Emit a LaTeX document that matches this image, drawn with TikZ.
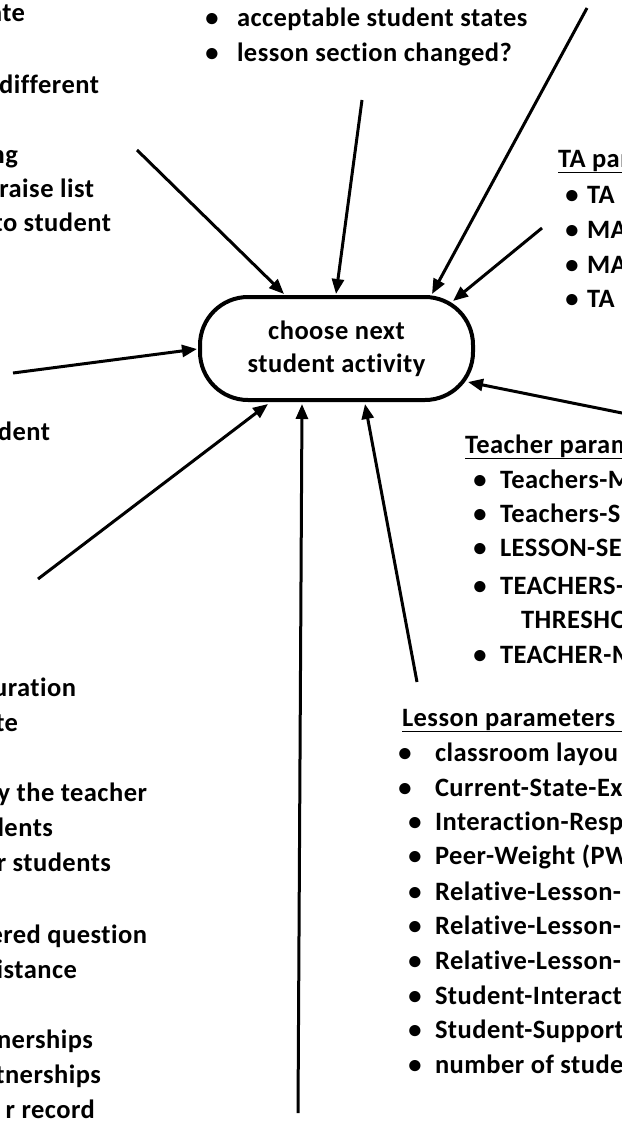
\documentclass[tikz,border=0pt]{standalone}
\usepackage{fontspec}
\setmainfont{Carlito}[Ligatures={NoCommon}, LetterSpace=1.8]
\usetikzlibrary{arrows.meta,calc}
\tikzset{
  txt/.style={font=\fontsize{26.5}{33}\selectfont\bfseries, inner sep=0pt, outer sep=0pt},
  lft/.style={txt, anchor=base east},
  itm/.style={txt, anchor=base west},
  bul/.style={txt, anchor=base},
  hub/.style={draw, line width=4pt, rounded corners=48pt, minimum width=273pt, minimum height=103pt, align=center, inner sep=0pt, font=\fontsize{26.5}{33}\selectfont\bfseries},
  arr/.style={line width=3pt, -{Triangle[length=15pt,width=12pt]}},
}
\begin{document}
\begin{tikzpicture}[x=1pt,y=-1pt]
\fill[white] (0,0) rectangle (621,1124);
\useasboundingbox (0,0) rectangle (621,1124);

% central node
\node[hub] (cn) at (336.5,348.5) {choose next\\student activity};

% left column (cut off)
\node[lft] (l1) at (25,22) {ate};
\node[lft] (l2) at (99,93) {different};
\node[lft] (l3) at (18,163) {ng};
\node[lft] (l4) at (94,197) {raise list};
\node[lft] (l5) at (111,231) {to student};
\node[lft] (l6) at (50,440) {dent};
\node[lft] (l7) at (76,696) {uration};
\node[lft] (l8) at (18,731) {te};
\node[lft] (l9) at (147,801) {y the teacher};
\node[lft] (l10) at (53,836) {lents};
\node[lft] (l11) at (111,871) {r students};
\node[lft] (l12) at (147,943) {ered question};
\node[lft] (l13) at (77,978) {istance};
\node[lft] (l14) at (93,1048) {nerships};
\node[lft] (l15) at (101,1083) {tnerships};
\node[lft] (l16) at (95,1118) {r record};

% top list
\node[bul] (tb1) at (212,27) {•};
\node[itm] (t1) at (237,27) {acceptable student states};
\node[bul] (tb2) at (212,62) {•};
\node[itm] (t2) at (237,62) {lesson section changed?};

% TA parameters
\node[itm] (tah) at (558,167) {\underline{TA parameters}};
\foreach \t/\yy [count=\i] in {TA/203, MA/238, MA/273, TA/307}{
  \node[bul] (tab\i) at (572,\yy) {•};
  \node[itm] (ta\i) at (587,\yy) {\t};
}

% Teacher parameters
\node[itm] (teh) at (465,453) {\underline{Teacher parameters}};
\foreach \t/\yy [count=\i] in {Teachers-M/488, Teachers-S/522, LESSON-SE/556, TEACHERS-/594, TEACHER-M/663}{
  \node[bul] (teb\i) at (480,\yy) {•};
  \node[itm] (te\i) at (500,\yy) {\t};
}
\node[itm] (te6) at (521,628) {THRESHO};

% Lesson parameters
\node[itm] (leh) at (402,726) {\underline{Lesson parameters\hspace{60pt}}};
\node[bul] (leb1) at (405,761) {•};
\node[itm] (le1) at (435,761) {classroom layou};
\node[bul] (leb2) at (405,796) {•};
\node[itm] (le2) at (435,796) {Current-State-Ex};
\foreach \t/\yy [count=\i] in {Interaction-Resp/830, Peer-Weight (PW/864, Relative-Lesson-/900, Relative-Lesson-/934, Relative-Lesson-/969, Student-Interact/1004, Student-Support/1038, number of stude/1073}{
  \node[bul] (lb\i) at (415,\yy) {•};
  \node[itm] (lx\i) at (435,\yy) {\t};
}

% free ends of the connectors
\coordinate (s1) at (137,150);
\coordinate (s2) at (362,100);
\coordinate (s3) at (587,8);
\coordinate (s4) at (542,228);
\coordinate (s5) at (632,415);
\coordinate (s6) at (13,373);
\coordinate (s7) at (38,579);
\coordinate (s8) at (298,1113);
\coordinate (s9) at (417,682);

\draw[arr] (s1) -- ($(cn.center)+(-52.5,-54.5)$);
\draw[arr] (s2) -- ($(cn.center)+(-0.5,-54.5)$);
\draw[arr] (s3) -- ($(cn.center)+(95.5,-54.5)$);
\draw[arr] (s4) -- ($(cn.center)+(116.5,-47.5)$);
\draw[arr] (s5) -- ($(cn.center)+(131.5,33.5)$);
\draw[arr] (s6) -- ($(cn.center)+(-139.5,0.5)$);
\draw[arr] (s7) -- ($(cn.center)+(-68.5,55.5)$);
\draw[arr] (s8) -- ($(cn.center)+(-34.5,55.5)$);
\draw[arr] (s9) -- ($(cn.center)+(28.5,55.5)$);
\end{tikzpicture}
\end{document}
